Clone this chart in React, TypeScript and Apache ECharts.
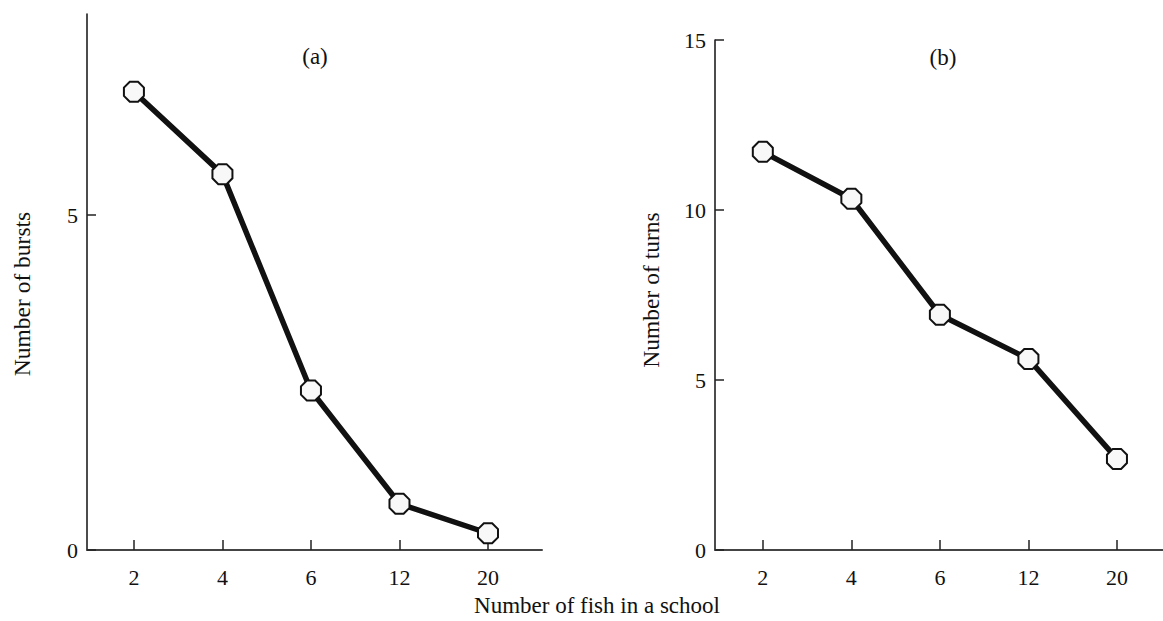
import React, { useEffect, useRef } from "react";
import * as echarts from "echarts";

const categories = ["2", "4", "6", "12", "20"];
const bursts = [6.84, 5.61, 2.38, 0.69, 0.25];
const turns = [11.71, 10.33, 6.92, 5.62, 2.68];
const burstTicks = [0, 5];
const turnTicks = [0, 5, 10, 15];

const FONT = "Liberation Serif";
const octagon =
  "path://M0.293,0 L0.707,0 L1,0.293 L1,0.707 L0.707,1 L0.293,1 L0,0.707 L0,0.293 Z";

export default function App() {
  const ref = useRef<HTMLDivElement>(null);
  useEffect(() => {
    if (!ref.current) return;
    const chart = echarts.init(ref.current, null, { renderer: "svg" });
    const idx = categories.map((_, i) => i);
    const xAxisBase = (min: number, max: number, gridIndex: number) => ({
      type: "value",
      gridIndex,
      min,
      max,
      axisLine: { onZero: false, lineStyle: { color: "#444", width: 2 } },
      axisTick: {
        inside: true,
        length: 10,
        customValues: idx,
        lineStyle: { color: "#222", width: 1.5 },
      },
      axisLabel: {
        customValues: idx,
        formatter: (v: number) => categories[Math.round(v)],
        color: "#111",
        fontFamily: FONT,
        fontSize: 22,
        margin: 16,
      },
      splitLine: { show: false },
    });
    const yAxisBase = (max: number, ticks: number[], gridIndex: number) => ({
      type: "value",
      gridIndex,
      min: 0,
      max,
      axisLine: { show: true, onZero: false, lineStyle: { color: "#111", width: 1.5 } },
      axisTick: {
        show: true,
        inside: true,
        length: 9,
        customValues: ticks,
        lineStyle: { color: "#222", width: 1.5 },
      },
      axisLabel: {
        customValues: ticks,
        color: "#111",
        fontFamily: FONT,
        fontSize: 22,
        margin: 9,
      },
      splitLine: { show: false },
    });
    const seriesBase = (data: number[], i: number) => ({
      type: "line",
      xAxisIndex: i,
      yAxisIndex: i,
      data: data.map((v, k) => [k, v]),
      symbol: octagon,
      symbolSize: 20,
      showAllSymbol: true,
      lineStyle: { color: "#111", width: 5.5 },
      itemStyle: { color: "#f8f8f8", borderColor: "#111", borderWidth: 2 },
      z: 3,
    });
    chart.setOption({
      animation: false,
      backgroundColor: "#fff",
      grid: [
        { left: 87, top: 14, width: 455, bottom: 71 },
        { left: 715, top: 40, width: 448, bottom: 71 },
      ],
      xAxis: [xAxisBase(-0.53, 4.61, 0), xAxisBase(-0.54, 4.52, 1)],
      yAxis: [yAxisBase(8, burstTicks, 0), yAxisBase(15, turnTicks, 1)],
      series: [seriesBase(bursts, 0), seriesBase(turns, 1)],
      graphic: [
        {
          type: "text",
          x: 315,
          y: 56,
          style: { text: "(a)", font: `23px "${FONT}"`, fill: "#111", align: "center", verticalAlign: "middle" },
        },
        {
          type: "text",
          x: 943,
          y: 57,
          style: { text: "(b)", font: `23px "${FONT}"`, fill: "#111", align: "center", verticalAlign: "middle" },
        },
        {
          type: "text",
          x: 22,
          y: 294,
          rotation: Math.PI / 2,
          style: { text: "Number of bursts", font: `23.5px "${FONT}"`, fill: "#111", align: "center", verticalAlign: "middle" },
        },
        {
          type: "text",
          x: 651,
          y: 290,
          rotation: Math.PI / 2,
          style: { text: "Number of turns", font: `23.5px "${FONT}"`, fill: "#111", align: "center", verticalAlign: "middle" },
        },
        {
          type: "text",
          x: 597,
          y: 605,
          style: { text: "Number of fish in a school", font: `23px "${FONT}"`, fill: "#111", align: "center", verticalAlign: "middle" },
        },
      ],
    });
    return () => chart.dispose();
  }, []);
  return <div ref={ref} style={{ width: 1163, height: 621, position: "absolute", left: 0, top: 0 }} />;
}
